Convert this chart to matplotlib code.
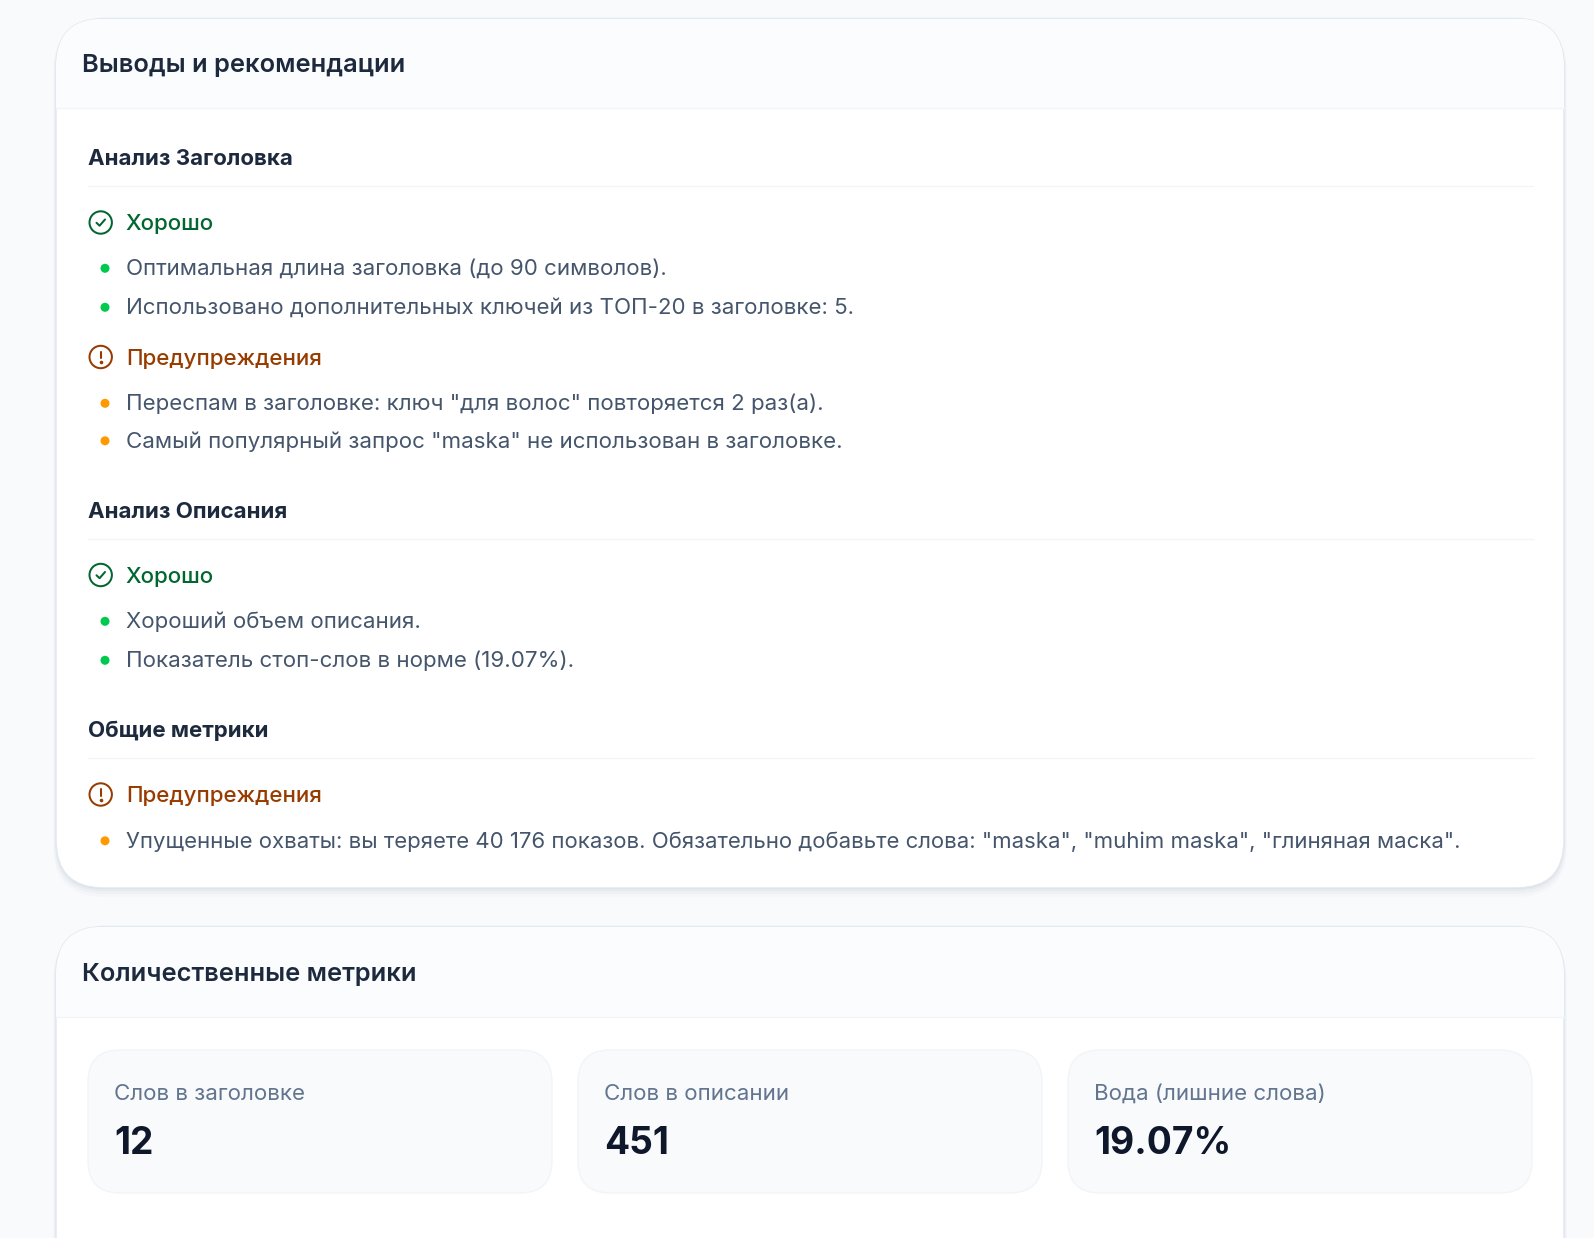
import matplotlib
matplotlib.use("Agg")
import matplotlib.pyplot as plt
from matplotlib.patches import FancyBboxPatch, Rectangle, Circle

plt.rcParams['font.family'] = ['Inter', 'DejaVu Sans']

# texts
card_titles = ["Выводы и рекомендации", "Количественные метрики"]
section_titles = ["Анализ Заголовка", "Анализ Описания", "Общие метрики"]
good_label = "Хорошо"
warn_label = "Предупреждения"
title_good = ["Оптимальная длина заголовка (до 90 символов).",
              "Использовано дополнительных ключей из ТОП-20 в заголовке: 5."]
title_warn = ['Переспам в заголовке: ключ "для волос" повторяется 2 раз(а).',
              'Самый популярный запрос "maska" не использован в заголовке.']
descr_good = ["Хороший объем описания.",
              "Показатель стоп-слов в норме (19.07%)."]
common_warn = ['Упущенные охваты: вы теряете 40 176 показов. Обязательно добавьте слова: "maska", "muhim maska", "глиняная маска".']
metric_labels = ["Слов в заголовке", "Слов в описании", "Вода (лишние слова)"]
metric_values = ["12", "451", "19.07%"]

W, H = 1594, 1238
PX = 72 / 100  # css px -> pt at dpi 100

BG = "#f8fafc"
HEAD = "#fbfcfe"
LINE = "#f1f5f9"
BORDER = "#e2e8f0"
DARK = "#1d293d"
BODY = "#45556c"
MUTED = "#62748e"
VALUE = "#0f172b"
GREEN_T = "#016630"
AMBER_T = "#973c00"
GREEN_B = "#00c950"
AMBER_B = "#fe9a00"

fig = plt.figure(figsize=(W / 100, H / 100), dpi=100, facecolor=BG)
ax = fig.add_axes([0, 0, 1, 1])
ax.set_xlim(0, W)
ax.set_ylim(H, 0)
ax.axis("off")


def rbox(x0, y0, x1, y1, r, **kw):
    p = FancyBboxPatch((x0 + r, y0 + r), x1 - x0 - 2 * r, y1 - y0 - 2 * r,
                       boxstyle=f"round,pad={r},rounding_size={r}", **kw)
    ax.add_patch(p)
    return p


def card(y0, y1, head_bottom, title, ty):
    x0, x1, r = 56, 1564, 48
    # soft shadow
    for off, grow, a in [(1, 0, .10), (2, 1, .06), (4, 2, .04), (6, 3, .025)]:
        rbox(x0 - grow, y0 + off - grow, x1 + grow, y1 + off + grow, r + grow,
             fc="#64748b", ec="none", alpha=a, zorder=1)
    p = rbox(x0, y0, x1, y1, r, fc="white", ec=BORDER, lw=1, zorder=2)
    h = Rectangle((x0, y0), x1 - x0, head_bottom - y0, fc=HEAD, ec="none", zorder=2.1)
    ax.add_patch(h)
    h.set_clip_path(p)
    ax.plot([x0, x1], [head_bottom, head_bottom], color=LINE, lw=1, zorder=2.2)
    ax.text(81.8, ty, title, fontsize=25.5 * PX, weight=600, color=DARK,
            va="center_baseline", zorder=3)


def section(y, title):
    ax.text(88, y, title, fontsize=22.3 * PX, weight=700, color=DARK,
            va="center_baseline", zorder=3)
    ax.plot([88, 1533], [y + 28.5, y + 28.5], color=LINE, lw=1, zorder=3)


def status(y, kind):
    col = GREEN_T if kind == "good" else AMBER_T
    ax.add_patch(Circle((100.7, y), 11.2, fc="none", ec=col, lw=1.45, zorder=3))
    if kind == "good":
        ax.plot([96.5, 99.6, 105], [y + .3, y + 3.2, y - 3], color=col, lw=1.45,
                solid_capstyle="round", solid_joinstyle="round", zorder=3)
    else:
        ax.plot([100.7, 100.7], [y - 5.5, y + 1], color=col, lw=1.5,
                solid_capstyle="round", zorder=3)
        ax.plot([100.7], [y + 5], marker="o", ms=1.6, color=col, zorder=3)
    ax.text(125.8, y, good_label if kind == "good" else warn_label,
            fontsize=22.3 * PX, weight=500, color=col, va="center_baseline", zorder=3)


def bullets(ys, items, col, size=22.3):
    for y, s in zip(ys, items):
        ax.add_patch(Circle((105, y + 1.3), 4.5, fc=col, ec="none", zorder=3))
        ax.text(126, y, s, fontsize=size * PX, color=BODY, va="center_baseline", zorder=3)


card(18.5, 888, 108, card_titles[0], 63)
card(926.5, 1320, 1017, card_titles[1], 972)

section(157, section_titles[0])
status(222.5, "good")
bullets([267, 306], title_good, GREEN_B, 22.25)
status(357, "warn")
bullets([402, 439.5], title_warn, AMBER_B)

section(510, section_titles[1])
status(575, "good")
bullets([620, 659], descr_good, GREEN_B)

section(729, section_titles[2])
status(794.5, "warn")
bullets([839.5], common_warn, AMBER_B, 22.16)

for x0, x1, lab, val in zip([88, 578, 1068], [552, 1042, 1532], metric_labels, metric_values):
    rbox(x0, 1050, x1, 1193, 32, fc=BG, ec=LINE, lw=1, zorder=3)
    ax.text(x0 + 26.5, 1092, lab, fontsize=22.3 * PX, color=MUTED, va="center_baseline", zorder=4)
    ax.text(x0 + 26, 1140, val, fontsize=37.2 * PX, weight=700, color=VALUE,
            va="center_baseline", zorder=4)

fig.savefig("out.png", dpi=100, facecolor=BG)
